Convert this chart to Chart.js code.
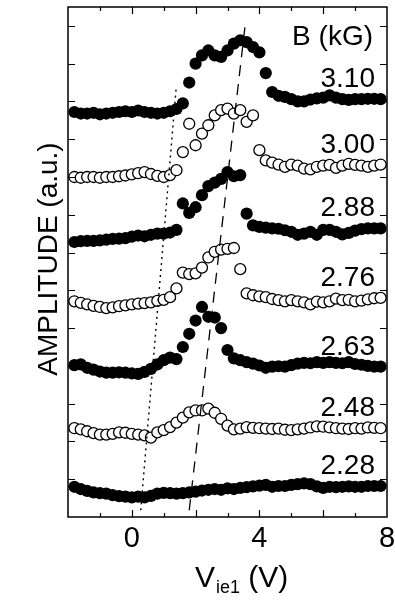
<!DOCTYPE html>
<html>
<head>
<meta charset="utf-8">
<title>Amplitude vs Vie1</title>
<script src="https://cdn.jsdelivr.net/npm/chart.js@4.4.1/dist/chart.umd.min.js"></script>
<style>
  html, body { margin: 0; padding: 0; background: #fff; }
  canvas { display: block; }
</style>
</head>
<body>
<canvas id="c" width="395" height="601"></canvas>
<script>
// Voltage sweep shared by every trace (V)
const voltages = [-1.8, -1.6, -1.4, -1.2, -1.0, -0.8, -0.6, -0.4, -0.2, 0.0,
                  0.2, 0.4, 0.6, 0.8, 1.0, 1.2, 1.4, 1.6, 1.8, 2.0,
                  2.2, 2.4, 2.6, 2.8, 3.0, 3.2, 3.4, 3.6, 3.8, 4.0,
                  4.2, 4.4, 4.6, 4.8, 5.0, 5.2, 5.4, 5.6, 5.8, 6.0,
                  6.2, 6.4, 6.6, 6.8, 7.0, 7.2, 7.4, 7.6, 7.8];

// Offset amplitude traces (a.u.), one per magnetic field
const amp310 = [10.72, 10.68, 10.68, 10.70, 10.66, 10.68, 10.70, 10.72, 10.74, 10.72,
                10.76, 10.72, 10.70, 10.68, 10.70, 10.74, 10.80, 10.95, 11.50, 12.00,
                12.22, 12.35, 12.22, 12.18, 12.35, 12.53, 12.62, 12.57, 12.44, 12.30,
                11.75, 11.25, 11.15, 11.12, 11.06, 11.00, 11.00, 11.05, 11.08, 11.10,
                11.16, 11.10, 11.06, 11.04, 11.06, 11.06, 11.07, 11.07, 11.06];
const amp300 = [9.00, 8.98, 9.00, 9.00, 8.98, 9.00, 9.00, 9.02, 9.04, 9.07,
                9.10, 9.13, 9.08, 9.03, 9.00, 9.05, 9.18, 9.66, 10.41, 9.84,
                10.15, 10.37, 10.63, 10.77, 10.81, 10.68, 10.77, 10.46, 10.63, 9.71,
                9.44, 9.38, 9.33, 9.27, 9.33, 9.30, 9.22, 9.20, 9.27, 9.30,
                9.32, 9.24, 9.30, 9.35, 9.32, 9.30, 9.27, 9.30, 9.33];
const amp288 = [7.28, 7.30, 7.31, 7.31, 7.32, 7.34, 7.36, 7.37, 7.38, 7.42,
                7.45, 7.43, 7.47, 7.50, 7.50, 7.53, 7.60, 8.30, 8.05, 8.20,
                8.52, 8.76, 8.85, 8.95, 9.13, 9.02, 9.05, 8.03, 7.72, 7.68,
                7.66, 7.64, 7.63, 7.59, 7.55, 7.47, 7.50, 7.55, 7.47, 7.60,
                7.60, 7.55, 7.48, 7.52, 7.58, 7.62, 7.64, 7.64, 7.64];
const amp276 = [5.71, 5.67, 5.63, 5.59, 5.56, 5.53, 5.55, 5.58, 5.60, 5.63,
                5.65, 5.66, 5.68, 5.72, 5.75, 5.82, 6.05, 6.47, 6.43, 6.45,
                6.60, 6.87, 7.02, 7.08, 7.10, 7.12, 6.56, 5.92, 5.87, 5.84,
                5.82, 5.77, 5.74, 5.71, 5.74, 5.71, 5.68, 5.63, 5.70, 5.68,
                5.71, 5.78, 5.74, 5.75, 5.71, 5.73, 5.76, 5.79, 5.80];
const amp263 = [4.02, 4.04, 3.95, 3.90, 3.85, 3.82, 3.82, 3.83, 3.82, 3.80,
                3.79, 3.84, 3.92, 4.04, 4.15, 4.22, 4.18, 4.50, 4.85, 5.20,
                5.56, 5.30, 5.28, 5.00, 4.42, 4.20, 4.15, 4.10, 4.06, 4.01,
                3.95, 3.98, 3.99, 3.98, 4.02, 4.06, 4.08, 4.07, 4.10, 4.08,
                4.10, 4.08, 4.07, 4.10, 4.05, 4.03, 4.00, 3.98, 3.98];
const amp248 = [2.35, 2.32, 2.27, 2.22, 2.18, 2.18, 2.20, 2.24, 2.23, 2.20,
                2.18, 2.16, 2.10, 2.24, 2.30, 2.38, 2.50, 2.63, 2.77, 2.82,
                2.82, 2.87, 2.76, 2.60, 2.42, 2.32, 2.34, 2.38, 2.36, 2.35,
                2.34, 2.33, 2.34, 2.31, 2.30, 2.32, 2.34, 2.37, 2.40, 2.39,
                2.37, 2.35, 2.34, 2.33, 2.35, 2.34, 2.37, 2.36, 2.35];
const amp228 = [0.80, 0.74, 0.69, 0.65, 0.63, 0.62, 0.58, 0.55, 0.54, 0.52,
                0.54, 0.52, 0.56, 0.62, 0.64, 0.63, 0.62, 0.63, 0.65, 0.67,
                0.70, 0.72, 0.74, 0.72, 0.76, 0.74, 0.77, 0.79, 0.81, 0.83,
                0.85, 0.80, 0.82, 0.82, 0.85, 0.87, 0.89, 0.87, 0.81, 0.77,
                0.80, 0.79, 0.80, 0.81, 0.80, 0.80, 0.82, 0.82, 0.82];

// Field labels (kG), top trace first, and which traces use open symbols
const fieldLabels = ['3.10', '3.00', '2.88', '2.76', '2.63', '2.48', '2.28'];
const traces = [amp310, amp300, amp288, amp276, amp263, amp248, amp228];
const openSymbol = [false, true, false, true, false, true, false];

// Guide lines through onset (dotted) and peak (dashed)
const onsetX = [0.28, 1.39];
const onsetY = [0.18, 11.35];
const peakX = [1.80, 3.56];
const peakY = [0.18, 13.07];

// Axis ticks
const xTickLabels = [0, 4, 8];
const xMinorTicks = [-1, 0, 1, 2, 3, 4, 5, 6, 7];
const yTicks = [1, 2, 3, 4, 5, 6, 7, 8, 9, 10, 11, 12, 13];

const FONT = '"Liberation Sans", Arial, Helvetica, sans-serif';

const pts = (xs, ys) => xs.map((v, i) => ({ x: v, y: ys[i] }));

const datasets = traces.map((vals, i) => ({
  label: fieldLabels[i] + ' kG',
  data: pts(voltages, vals),
  showLine: false,
  order: 1,
  pointRadius: openSymbol[i] ? 5.5 : 6.1,
  pointBorderWidth: openSymbol[i] ? 1.3 : 0,
  pointBorderColor: '#000',
  pointBackgroundColor: openSymbol[i] ? '#fff' : '#000'
}));

datasets.push({
  label: 'onset',
  data: pts(onsetX, onsetY),
  showLine: true,
  order: 0,
  borderColor: '#000',
  borderWidth: 1.4,
  borderDash: [2, 4],
  pointRadius: 0
});
datasets.push({
  label: 'peak',
  data: pts(peakX, peakY),
  showLine: true,
  order: 0,
  borderColor: '#000',
  borderWidth: 1.3,
  borderDash: [11, 8],
  pointRadius: 0
});

// Frame, inward ticks, tick labels, axis titles and field labels
const decorations = {
  id: 'decorations',
  afterDatasetsDraw(chart) {
    const { ctx, chartArea: a, scales: { x, y } } = chart;
    ctx.save();
    ctx.strokeStyle = '#000';
    ctx.fillStyle = '#000';

    // frame
    ctx.lineWidth = 1.5;
    ctx.strokeRect(a.left, a.top, a.right - a.left, a.bottom - a.top);

    // x ticks, top and bottom, pointing inward
    ctx.lineWidth = 1.2;
    ctx.beginPath();
    xMinorTicks.forEach(v => {
      const px = Math.round(x.getPixelForValue(v)) + 0.5;
      const len = v % 2 === 0 ? 7 : 4;
      ctx.moveTo(px, a.bottom); ctx.lineTo(px, a.bottom - len);
      ctx.moveTo(px, a.top); ctx.lineTo(px, a.top + len);
    });
    // y ticks, left and right, pointing inward
    yTicks.forEach(v => {
      const py = Math.round(y.getPixelForValue(v)) + 0.5;
      ctx.moveTo(a.left, py); ctx.lineTo(a.left + 7, py);
      ctx.moveTo(a.right, py); ctx.lineTo(a.right - 7, py);
    });
    ctx.stroke();

    // x tick labels
    ctx.font = '29px ' + FONT;
    ctx.textAlign = 'center';
    ctx.textBaseline = 'alphabetic';
    xTickLabels.forEach(v => {
      ctx.fillText(String(v), x.getPixelForValue(v), a.bottom + 30);
    });

    // x title: V with subscript ie1, then unit
    const base = a.bottom + 70;
    let cx = a.left + 127;
    ctx.textAlign = 'left';
    ctx.font = '30px ' + FONT;
    ctx.fillText('V', cx, base);
    cx += ctx.measureText('V').width + 1;
    ctx.font = '18px ' + FONT;
    ctx.fillText('ie1', cx, base + 6);
    cx += ctx.measureText('ie1').width;
    ctx.font = '30px ' + FONT;
    ctx.fillText(' (V)', cx, base);

    // y title
    ctx.save();
    ctx.translate(57, 259);
    ctx.rotate(-Math.PI / 2);
    ctx.font = '28px ' + FONT;
    ctx.textAlign = 'center';
    ctx.fillText('AMPLITUDE (a.u.)', 0, 0);
    ctx.restore();

    // field labels above the right end of each trace
    ctx.font = '28px ' + FONT;
    ctx.textAlign = 'right';
    const rx = a.right - 12;
    ctx.fillText('B (kG)', rx - 2, a.top + 38);
    traces.forEach((vals, i) => {
      const py = y.getPixelForValue(vals[vals.length - 1]) - 12;
      ctx.fillText(fieldLabels[i], rx, py);
    });

    ctx.restore();
  }
};

new Chart(document.getElementById('c'), {
  type: 'line',
  data: { datasets },
  options: {
    responsive: false,
    animation: false,
    events: [],
    layout: { padding: { left: 68, right: 8, top: 7, bottom: 84 } },
    plugins: { legend: { display: false }, tooltip: { enabled: false } },
    scales: {
      x: { type: 'linear', min: -2, max: 8, display: false },
      y: { type: 'linear', min: 0, max: 13.5, display: false }
    }
  },
  plugins: [decorations]
});
</script>
</body>
</html>
